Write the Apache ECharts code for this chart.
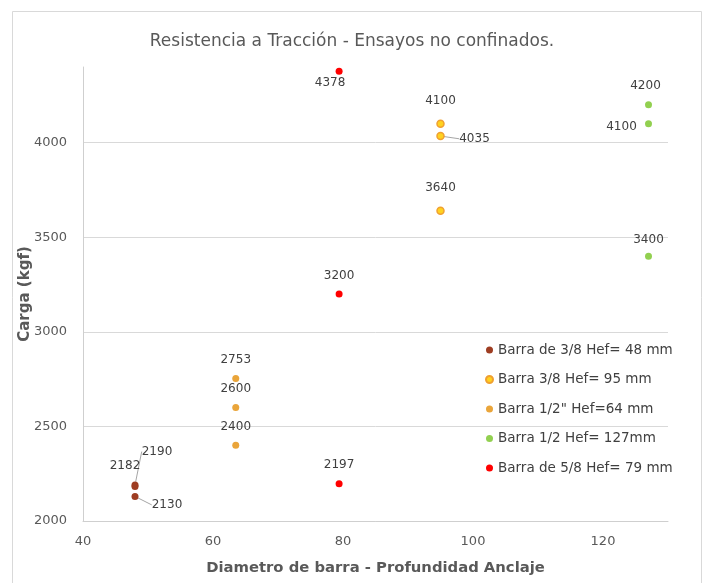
<!DOCTYPE html>
<html>
<head>
<meta charset="utf-8">
<script src="https://cdn.jsdelivr.net/npm/echarts@6/dist/echarts.min.js"></script>
<style>
html,body{margin:0;padding:0;background:#fff;}
#c{width:704px;height:583px;}
</style>
</head>
<body>
<div id="c"></div>
<script>
// ---- data ----
const seriesNames = [
  'Barra de 3/8 Hef= 48 mm',
  'Barra 3/8 Hef= 95 mm',
  'Barra 1/2" Hef=64 mm',
  'Barra 1/2 Hef= 127mm',
  'Barra de 5/8 Hef= 79 mm'
];
const xBarra38_48 = 48;
const yBarra38_48 = [2190, 2182, 2130];
const xBarra38_95 = 95;
const yBarra38_95 = [4100, 4035, 3640];
const xBarra12_64 = 63.5;
const yBarra12_64 = [2753, 2600, 2400];
const xBarra12_127 = 127;
const yBarra12_127 = [4200, 4100, 3400];
const xBarra58_79 = 79.4;
const yBarra58_79 = [4378, 3200, 2197];
const xTicks = [40, 60, 80, 100, 120];
const yTicks = [2000, 2500, 3000, 3500, 4000];

// ---- styles (label offsets) ----
const FONT = 'DejaVu Sans';
const labelOffsets = [
  [{dx: 22, dy: -15, line: true}, {dx: -10, dy: -2}, {dx: 32, dy: 27, line: true}],
  [{dx: 0, dy: -4}, {dx: 34, dy: 22, line: true}, {dx: 0, dy: -4}],
  [{dx: 0, dy: 0}, {dx: 0, dy: 0}, {dx: 0, dy: 0}],
  [{dx: -3, dy: 0}, {dx: -27, dy: 22}, {dx: 0, dy: 2}],
  [{dx: -9, dy: 30}, {dx: 0, dy: 0}, {dx: 0, dy: 0}]
];
const colors = ['#9e3d22', '#ffd21f', '#eaa53a', '#92d050', '#ff0000'];
const borders = ['#9e3d22', '#f0a030', '#eaa53a', '#92d050', '#ff0000'];

function mk(idx, x, ys) {
  return {
    name: seriesNames[idx],
    type: 'scatter',
    symbol: 'circle',
    symbolSize: 7,
    itemStyle: {opacity: 1, color: colors[idx], borderColor: borders[idx], borderWidth: idx === 1 ? 1.5 : 0},
    label: {show: true, position: 'top', distance: 9, fontFamily: FONT, fontSize: 12, color: '#404040',
      formatter: p => String(p.value[1])},
    labelLine: {show: false, lineStyle: {color: '#a6a6a6', width: 1}},
    labelLayout: p => {
      const o = labelOffsets[idx][p.dataIndex];
      return {dx: o.dx, dy: o.dy};
    },
    data: ys.map((y, i) => ({
      value: [x, y],
      labelLine: {show: !!labelOffsets[idx][i].line}
    }))
  };
}

const chart = echarts.init(document.getElementById('c'), null, {renderer: 'canvas'});
chart.setOption({
  animation: false,
  backgroundColor: '#fff',
  title: {
    text: 'Resistencia a Tracción - Ensayos no confinados.',
    left: 'center', top: 28,
    textStyle: {fontFamily: FONT, fontSize: 17, fontWeight: 'normal', color: '#595959'}
  },
  graphic: [{
    type: 'rect', left: 10, top: 9, silent: true,
    shape: {width: 689, height: 590},
    style: {fill: 'none', stroke: '#d9d9d9', lineWidth: 1}
  }],
  legend: {
    orient: 'vertical', left: 480, top: 338,
    itemWidth: 7, itemHeight: 7, itemGap: 15.5,
    icon: 'circle',
    textStyle: {fontFamily: FONT, fontSize: 13.5, color: '#404040'},
    data: seriesNames
  },
  grid: {left: 83, right: 36, top: 67, bottom: 62, containLabel: false},
  xAxis: {
    type: 'value', min: xTicks[0], max: 130, interval: 20,
    name: 'Diametro de barra - Profundidad Anclaje',
    nameLocation: 'middle', nameGap: 40, nameMoveOverlap: false,
    nameTextStyle: {fontFamily: FONT, fontSize: 14.8, fontWeight: 'bold', color: '#595959'},
    axisLine: {show: true, lineStyle: {color: '#cfcfcf'}},
    axisTick: {show: false},
    splitLine: {show: false},
    axisLabel: {fontFamily: FONT, fontSize: 13, color: '#595959', margin: 14, showMaxLabel: false,
      formatter: v => xTicks.includes(v) ? String(v) : ''}
  },
  yAxis: {
    type: 'value', min: yTicks[0], max: 4400, interval: 500,
    name: 'Carga (kgf)',
    nameLocation: 'middle', nameGap: 50, nameMoveOverlap: false,
    nameTextStyle: {fontFamily: FONT, fontSize: 15, fontWeight: 'bold', color: '#595959'},
    axisLine: {show: true, lineStyle: {color: '#cfcfcf'}},
    axisTick: {show: false},
    splitLine: {show: true, lineStyle: {color: ['#d9d9d9', '#d9d9d9', '#d9d9d9', '#d9d9d9', '#d9d9d9', 'rgba(0,0,0,0)']}},
    axisLabel: {fontFamily: FONT, fontSize: 13, color: '#595959', margin: 16, showMaxLabel: false,
      formatter: v => yTicks.includes(v) ? String(v) : ''}
  },
  series: [
    mk(0, xBarra38_48, yBarra38_48),
    mk(1, xBarra38_95, yBarra38_95),
    mk(2, xBarra12_64, yBarra12_64),
    mk(3, xBarra12_127, yBarra12_127),
    mk(4, xBarra58_79, yBarra58_79)
  ]
});
</script>
</body>
</html>
